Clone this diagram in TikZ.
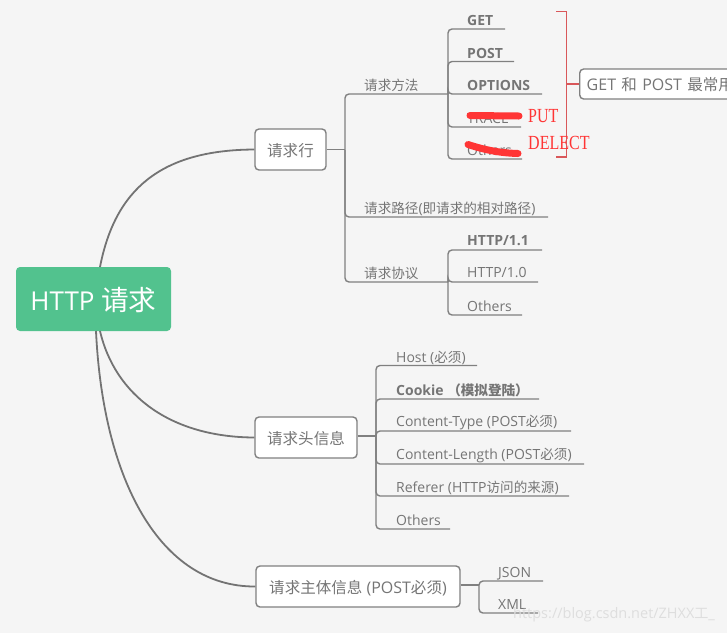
\documentclass[tikz,border=0pt]{standalone}
\usepackage{fontspec}
\setmainfont{Open Sans}
\newfontfamily\cjk[Scale=0.97]{Noto Sans CJK SC}
\newfontfamily\redfont[FakeStretch=0.8]{Liberation Serif}
\usepackage{tikz}
\usetikzlibrary{positioning}
\definecolor{bgcol}{HTML}{F5F5F5}
\definecolor{rootcol}{HTML}{52C28E}
\definecolor{linecol}{HTML}{808080}
\definecolor{curvecol}{HTML}{737373}
\definecolor{txtcol}{HTML}{757575}
\definecolor{markcol}{HTML}{FF3535}
\definecolor{bracketcol}{HTML}{D9575A}
\tikzset{
rootbox/.style={fill=rootcol,rounded corners=4,text=white,font=\fontsize{26}{30}\selectfont,minimum width=155,minimum height=64,inner sep=0,text height=26,text depth=4},
topic/.style={draw=linecol,fill=white,line width=1.4,rounded corners=4,text=txtcol,font=\fontsize{16}{18}\selectfont,minimum height=41,inner sep=0,text height=15,text depth=2},
leaf/.style={anchor=west,text=txtcol,font=\fontsize{14}{16}\selectfont,inner sep=0,yshift=-1},
boldleaf/.style={leaf,font=\fontsize{14}{16}\selectfont\bfseries},
branch/.style={draw=linecol,line width=1.4,rounded corners=4,to path={|- (\tikztotarget)}},
curve/.style={draw=curvecol,line width=1.8},
scribble/.style={draw=markcol,line width=7,line cap=round},
redtext/.style={anchor=west,text=markcol,font=\fontsize{20}{22}\redfont,inner sep=0}
}
\begin{document}
\begin{tikzpicture}[x=1pt,y=-1pt]
\clip (0,0) rectangle (727,633);
\fill[bgcol] (0,0) rectangle (727,633);
\node[rootbox] (root) at (93.5,299) {HTTP {\fontsize{28.5}{30}\selectfont\cjk 请求}};
\node[topic,minimum width=71] (line) at (290.5,149.5) {\cjk 请求行};
\node[topic,minimum width=102] (head) at (306,437.5) {\cjk 请求头信息};
\node[topic,minimum width=204] (body) at (358,586.5) {{\cjk 请求主体信息} (POST{\cjk 必须})};
\node[topic,anchor=west,minimum height=30,inner xsep=7] (note) at (579,84) {GET\hspace{1.2pt} {\cjk 和}\hspace{1.2pt} POST\hspace{1.2pt} {\cjk 最常用}};
\node[leaf] (method) at (364,84.5) {\cjk 请求方法};
\node[leaf] (urlpath) at (364,207.5) {{\cjk 请求路径}({\cjk 即请求的相对路径})};
\node[leaf] (proto) at (364,272.5) {\cjk 请求协议};
\node[boldleaf] (get) at (467,19.5) {GET};
\node[boldleaf] (post) at (467,52) {POST};
\node[boldleaf] (options) at (467,84) {OPTIONS};
\node[leaf] (trace) at (467,117) {TRACE};
\node[leaf] (other) at (467,149.5) {Others};
\node[boldleaf] (hone) at (467,239.5) {HTTP/1.1};
\node[leaf] (hzero) at (467,272) {HTTP/1.0};
\node[leaf] (pother) at (467,305) {Others};
\node[leaf] (host) at (396,356.5) {Host ({\cjk 必须})};
\node[boldleaf] (cookie) at (396,389.5) {Cookie {\cjk （模拟登陆）}};
\node[leaf] (ctype) at (396,421.5) {Content-Type (POST{\cjk 必须})};
\node[leaf] (clen) at (396,454.5) {Content-Length (POST{\cjk 必须})};
\node[leaf] (refer) at (396,487) {Referer (HTTP{\cjk 访问的来源})};
\node[leaf] (hother) at (396,519.5) {Others};
\node[leaf] (json) at (498,572.5) {JSON};
\node[leaf] (xml) at (498,603) {XML};
\coordinate (rootA) at (100,267);
\coordinate (rootB) at (100,331);
\coordinate (rootC) at (96,331);
\coordinate (lineJ) at (345,149.5);
\coordinate (methodE) at (448,94);
\coordinate (urlE) at (548,217);
\coordinate (protoE) at (448,282);
\coordinate (getE) at (505,29);
\coordinate (postE) at (514,61.5);
\coordinate (optE) at (542,94);
\coordinate (traceE) at (521,127);
\coordinate (otherE) at (522,159);
\coordinate (hoE) at (542,250);
\coordinate (hzE) at (538,282);
\coordinate (poE) at (522,315);
\coordinate (headJ) at (376,436);
\coordinate (hostE) at (477,365.5);
\coordinate (cookE) at (539,399);
\coordinate (ctE) at (571,431);
\coordinate (clE) at (584,464);
\coordinate (refE) at (569,496);
\coordinate (hoth) at (450,529);
\coordinate (bodyJ) at (479,585);
\coordinate (jsonE) at (543,581);
\coordinate (xmlE) at (538,613);
\draw[curve] (rootA) .. controls (115,190) and (160,150) .. (line.west);
\draw[curve] (rootB) .. controls (115,395) and (170,437) .. (head.west);
\draw[curve] (rootC) .. controls (103,480) and (160,587) .. (body.west);
\path[branch]
(line.east |- lineJ) edge[to path={-- (\tikztotarget)}] (lineJ)
(lineJ) edge (methodE)
(lineJ) edge (urlE)
(lineJ) edge (protoE)
(methodE) edge (getE)
(methodE) edge (postE)
(methodE) edge (optE)
(methodE) edge (traceE)
(methodE) edge (otherE)
(protoE) edge (hoE)
(protoE) edge (hzE)
(protoE) edge (poE)
(head.east |- headJ) edge[to path={-- (\tikztotarget)}] (headJ)
(headJ) edge (hostE)
(headJ) edge (cookE)
(headJ) edge (ctE)
(headJ) edge (clE)
(headJ) edge (refE)
(headJ) edge (hoth)
(body.east |- bodyJ) edge[to path={-- (\tikztotarget)}] (bodyJ)
(bodyJ) edge (jsonE)
(bodyJ) edge (xmlE);
\draw[bracketcol,line width=1.3] (556,11.5) -- (566.5,11.5) -- (566.5,157) -- (556,157);
\draw[bracketcol,line width=1.3] (566.5,84) -- (note.west);
\draw[scribble] (470,115.5) -- (519,116);
\draw[scribble] (468,144.5) .. controls (485,150) and (500,153) .. (518,153.5);
\node[redtext] (put) at (528,116.5) {PUT};
\node[redtext] (delect) at (528,142.5) {DELECT};
\node[anchor=west,text=black!13,font=\fontsize{14.5}{18}\selectfont,inner sep=0] (mark) at (513,615) {https://blog.csdn.net/ZHXX{\cjk 工}\_};
\end{tikzpicture}
\end{document}
